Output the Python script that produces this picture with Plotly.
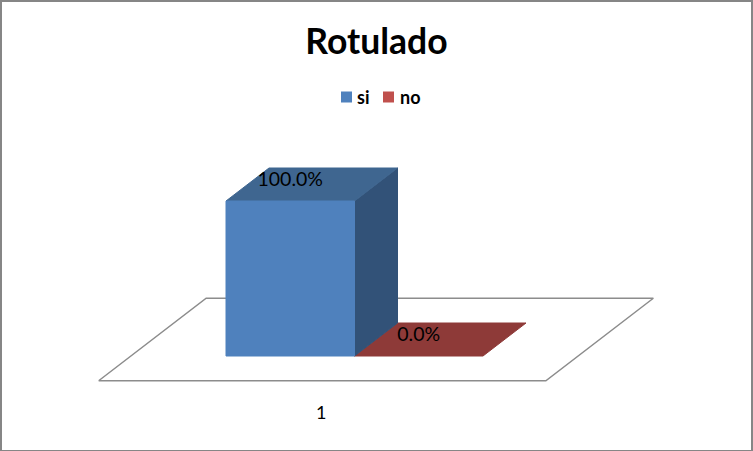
import plotly.graph_objects as go

# Data
title_text = "Rotulado"
categories = ["1"]
series_names = ["si", "no"]
series_values = [100.0, 0.0]
value_labels = ["100.0%", "0.0%"]

# Styles
FONT = "Lato"
FRONT = {"si": "#4F81BD", "no": "#C0504D"}
TOP = {"si": "#3F6690", "no": "#8E3A38"}
SIDE = {"si": "#325278", "no": "#6E2D2B"}
LINE = "#8C8C8C"
BORDER = "#868686"
W, H = 753, 451

# Scale: pixels per axis unit
PX_X = 128.5
PX_Y = 1.55
# Oblique projection: depth unit expressed in axis units
DX = 43 / PX_X
DY = 33 / PX_Y
LABEL_LIFT = 19.5 / PX_Y
GAP = 0.74
DEPTH_GAP = 0.75


def proj(x, depth, v):
    return x + depth * DX, v + depth * DY


def poly(pts, color, name, line=None, width=1):
    xs, ys = zip(*[proj(*p) for p in pts + pts[:1]])
    return go.Scatter(
        x=list(xs), y=list(ys), mode="lines", fill="toself", fillcolor=color,
        line=dict(color=line or color, width=width), name=name, showlegend=False,
        hoverinfo="skip",
    )


fig = go.Figure()

n = len(series_values)
# Floor
x0, x1 = -GAP, n + GAP
d0, d1 = -DEPTH_GAP, 1 + DEPTH_GAP
fig.add_trace(poly([(x0, d0, 0), (x1, d0, 0), (x1, d1, 0), (x0, d1, 0)], "#FFFFFF", "floor", line=LINE, width=1.5))

# Bars, back to front (right to left)
for i in reversed(range(n)):
    name, v = series_names[i], series_values[i]
    a, b = i, i + 1
    if v > 0:
        fig.add_trace(poly([(b, 0, 0), (b, 1, 0), (b, 1, v), (b, 0, v)], SIDE[name], name + " side"))
    fig.add_trace(poly([(a, 0, v), (b, 0, v), (b, 1, v), (a, 1, v)], TOP[name], name + " top"))
    if v > 0:
        fig.add_trace(poly([(a, 0, 0), (b, 0, 0), (b, 0, v), (a, 0, v)], FRONT[name], name + " front"))

# Data labels
fig.add_trace(go.Scatter(
    x=[i + 0.5 for i in range(n)],
    y=[v + LABEL_LIFT for v in series_values],
    text=value_labels, mode="text", textposition="middle center",
    textfont=dict(family=FONT, size=19.5, color="#000000"),
    showlegend=False, hoverinfo="skip", name="labels",
))

# Category label
cx, cy = proj(n / 2, d0, 0)
fig.add_trace(go.Scatter(
    x=[cx - 1 / PX_X], y=[cy - 34 / PX_Y], text=categories, mode="text",
    textfont=dict(family=FONT, size=18, color="#000000"),
    showlegend=False, hoverinfo="skip", name="category",
))

# Legend key: swatch left edges and label left edges, in page pixels
SWATCH_LEFT = [341, 383]
SWATCH_SIZE = 11
LEGEND_TEXT_LEFT = [356, 399]
LEGEND_MID = 97
shapes = [dict(type="rect", xref="paper", yref="paper", x0=0, x1=1, y0=-1 / H, y1=1,
               line=dict(color=BORDER, width=4), fillcolor="rgba(0,0,0,0)", layer="above")]
annotations = []
for name, sw, tx in zip(series_names, SWATCH_LEFT, LEGEND_TEXT_LEFT):
    shapes.append(dict(type="rect", xref="paper", yref="paper",
                       x0=sw / W, x1=(sw + SWATCH_SIZE) / W,
                       y0=1 - (LEGEND_MID + SWATCH_SIZE / 2) / H,
                       y1=1 - (LEGEND_MID - SWATCH_SIZE / 2) / H,
                       fillcolor=FRONT[name], line=dict(width=0)))
    annotations.append(dict(text=name, xref="paper", yref="paper", x=tx / W, y=1 - LEGEND_MID / H,
                            xanchor="left", yanchor="middle", showarrow=False, borderpad=0,
                            font=dict(family=FONT, size=18, color="#000000", weight="bold")))

fig.update_layout(
    width=W, height=H,
    margin=dict(l=0, r=0, t=0, b=0),
    paper_bgcolor="#FFFFFF", plot_bgcolor="#FFFFFF",
    showlegend=False,
    title=dict(text=title_text, x=0.5, xanchor="center", y=0.907, yanchor="middle",
               font=dict(family=FONT, size=35.5, color="#000000", weight="bold")),
    xaxis=dict(visible=False, range=[-226 / PX_X, (W - 226) / PX_X], fixedrange=True),
    yaxis=dict(visible=False, range=[-(H - 356) / PX_Y, 356 / PX_Y], fixedrange=True),
    shapes=shapes,
    annotations=annotations,
)

fig.write_html("out.html", post_script="document.body.style.margin='0';document.body.style.overflow='hidden';",
               config={"displayModeBar": False})
